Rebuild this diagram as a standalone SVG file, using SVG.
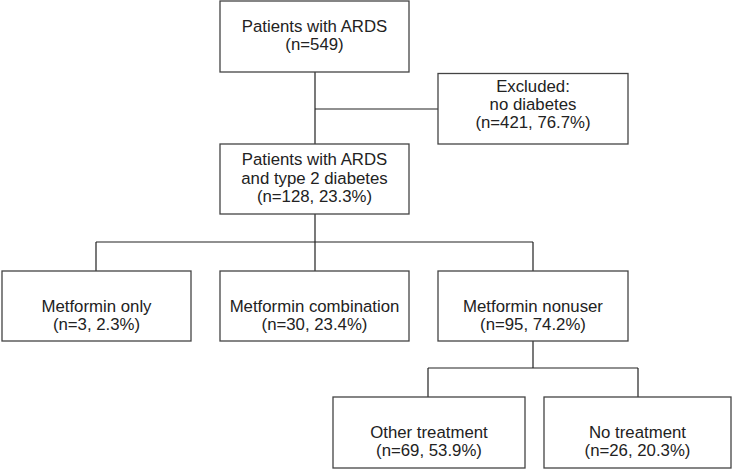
<svg xmlns="http://www.w3.org/2000/svg" width="735" height="469" viewBox="0 0 735 469">
<style>
.box{fill:#fff;stroke:#444;stroke-width:1.3}
.ln{fill:none;stroke:#222;stroke-width:1.2}
text{font-family:"Liberation Sans",Arial,sans-serif;font-size:16.8px;fill:#222;text-anchor:middle}
</style>
<rect width="735" height="469" fill="#fff"/>
<g id="connectors">
<path class="ln" d="M315 72V144M315 109H438M315 214V242M96 242H533M96 242V271M315 242V271M533 242V271M533 341V368M428 368H638M428 368V397M638 368V397"/>
</g>
<g id="n1"><rect class="box" x="220" y="1" width="189" height="71"/>
<text x="314.5" y="32">Patients with ARDS</text><text x="314.5" y="50">(n=549)</text></g>
<g id="n2"><rect class="box" x="438" y="73.5" width="190" height="70.5"/>
<text x="533" y="91.5">Excluded:</text><text x="533" y="109.5">no diabetes</text><text x="533" y="127.5">(n=421, 76.7%)</text></g>
<g id="n3"><rect class="box" x="220" y="144" width="189" height="70"/>
<text x="314.5" y="165">Patients with ARDS</text><text x="314.5" y="183.5">and type 2 diabetes</text><text x="314.5" y="202">(n=128, 23.3%)</text></g>
<g id="n4"><rect class="box" x="2" y="271" width="189" height="70"/>
<text x="96.5" y="311.5">Metformin only</text><text x="96.5" y="329.5">(n=3, 2.3%)</text></g>
<g id="n5"><rect class="box" x="220" y="271" width="189" height="70"/>
<text x="314.5" y="311.5">Metformin combination</text><text x="314.5" y="329.5">(n=30, 23.4%)</text></g>
<g id="n6"><rect class="box" x="438" y="271" width="190" height="70"/>
<text x="533" y="311.5">Metformin nonuser</text><text x="533" y="329.5">(n=95, 74.2%)</text></g>
<g id="n7"><rect class="box" x="333" y="397" width="192" height="71"/>
<text x="429" y="437.5">Other treatment</text><text x="429" y="455.5">(n=69, 53.9%)</text></g>
<g id="n8"><rect class="box" x="544" y="397" width="187" height="71"/>
<text x="637.5" y="437.5">No treatment</text><text x="637.5" y="455.5">(n=26, 20.3%)</text></g>
</svg>
